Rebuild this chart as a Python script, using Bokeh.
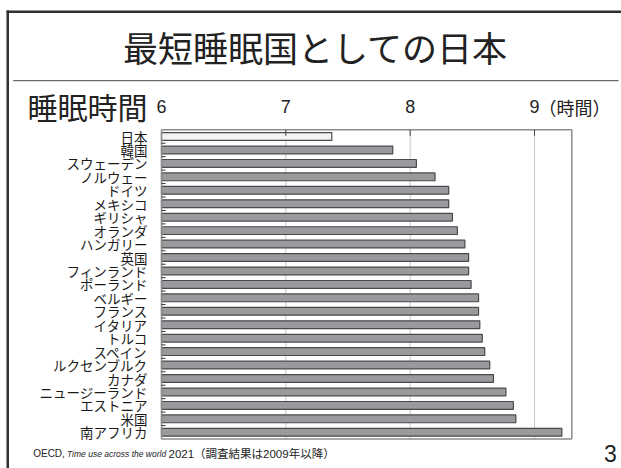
from bokeh.plotting import figure
from bokeh.models import Range1d, Label, BoxAnnotation, ColumnDataSource
from bokeh.core.properties import value
from bokeh.embed import file_html
from bokeh.resources import INLINE

# ---- data ----
countries = ["日本", "韓国", "スウェーデン", "ノルウェー", "ドイツ", "メキシコ", "ギリシャ",
             "オランダ", "ハンガリー", "英国", "フィンランド", "ポーランド", "ベルギー",
             "フランス", "イタリア", "トルコ", "スペイン", "ルクセンブルク", "カナダ",
             "ニュージーランド", "エストニア", "米国", "南アフリカ"]
sleep_hours = [7.37, 7.86, 8.05, 8.20, 8.31, 8.31, 8.34, 8.38, 8.44, 8.47, 8.47, 8.49,
               8.55, 8.55, 8.56, 8.58, 8.60, 8.64, 8.67, 8.77, 8.83, 8.85, 9.22]
x_ticks = [6, 7, 8, 9]
x_tick_labels = ["6", "7", "8", "9"]
x_min, x_max = 6, 9.3
unit_label = "（時間）"
title_text = "最短睡眠国としての日本"
axis_title = "睡眠時間"
source_text = ["OECD,", "Time use across the world", "2021（調査結果は2009年以降）"]
page_no = "3"

# ---- layout (canvas px) ----
W, H = 621, 468
PX_L, PX_R9 = 161, 534          # canvas x of x_min and of 9 h
PX_T, PX_B = 129.3, 438.5       # canvas y of plot-area top / bottom
S = (PX_R9 - PX_L) / (x_ticks[-1] - x_min)     # px per hour
n = len(countries)
R = (PX_B - PX_T) / n                         # px per row

idx = list(range(n))
colors = ["#f3f3f3" if c == "日本" else "#9a9a9e" for c in countries]
src = ColumnDataSource(dict(y=idx, v=sleep_hours, c=colors, name=countries))

x_range = Range1d(x_min - PX_L / S, x_min + (W - PX_L) / S)
y_range = Range1d((H - PX_T) / R - 0.5, -PX_T / R - 0.5)

p = figure(width=W, height=H, x_range=x_range, y_range=y_range,
           x_axis_type=None, y_axis_type=None, output_backend="svg",
           toolbar_location=None, min_border=0)
p.outline_line_color = None
p.background_fill_color = "white"
p.border_fill_color = "white"
p.grid.visible = False

top, bot = -0.5, n - 0.5

# grid lines
gx = x_ticks[1:]
p.segment(x0=gx, y0=[top] * len(gx), x1=gx, y1=[bot] * len(gx),
          line_color="#c6c6c6", line_width=1)

# bars
p.hbar(y="y", left=x_min, right="v", height=0.58, fill_color="c",
       line_color="#4a4a4a", line_width=1.2, source=src)

# plot frame
fx0 = [x_min, x_min, x_min, x_max]
fx1 = [x_max, x_max, x_min, x_max]
fy0 = [top, bot, top, top]
fy1 = [top, bot, bot, bot]
p.segment(x0=fx0, y0=fy0, x1=fx1, y1=fy1, line_color="#8c8c8c", line_width=1.5)

# top ticks (pointing into the plot)
p.segment(x0=gx, y0=[top] * len(gx), x1=gx, y1=[top + 6 / R] * len(gx),
          line_color="#444444", line_width=1)
# left ticks at category boundaries
b = [i + 0.5 for i in idx[:-1]]
p.segment(x0=[x_min] * len(b), y0=b, x1=[x_min + 4 / S] * len(b), y1=b,
          line_color="#333333", line_width=1)

# tick labels
p.text(x=x_ticks, y=[top] * len(x_ticks), text=x_tick_labels, y_offset=-23,
       text_align="center", text_baseline="middle", text_font=value("Liberation Sans"),
       text_font_size="18px", text_color="#222222")
# category labels
p.text(x=x_min, y="y", text="name", source=src, x_offset=-14,
       text_align="right", text_baseline="middle",
       text_font=value("Noto Sans CJK JP"), text_font_size="13.5px", text_color="#1a1a1a")


def lab(text, X, Y, size, align="left", font="Noto Sans CJK JP", style="normal", color="#222222"):
    p.add_layout(Label(x=X, y=H - Y, x_units="screen", y_units="screen", text=text,
                       text_align=align, text_baseline="middle", text_font=font,
                       text_font_size=size, text_font_style=style, text_color=color))


def box(l, r, t, bt, color):
    p.add_layout(BoxAnnotation(left=l, right=r, top=H - t, bottom=H - bt,
                               left_units="screen", right_units="screen",
                               top_units="screen", bottom_units="screen",
                               fill_color=color, fill_alpha=1, line_color=None))


# slide frame and title rule
box(6, 8.5, 10, H, "#303030")
box(6, W, 10, 12.5, "#303030")
box(12.7, 618, 79.5, 80.8, "#6a6a6a")

lab(title_text, 315, 46, "35px", align="center")
lab(axis_title, 27, 105, "30px")
lab(unit_label, 538, 106, "18px")
lab(source_text[0], 32.7, 453, "10px", font="Liberation Sans")
lab(source_text[1], 66.5, 453, "8.5px", font="Liberation Sans", style="italic")
lab(source_text[2], 168, 453, "11.5px", font="Liberation Sans, Noto Sans CJK JP")
lab(page_no, 610, 453, "23px", align="center", font="Liberation Sans")

open("out.html", "w").write(file_html(p, INLINE))
